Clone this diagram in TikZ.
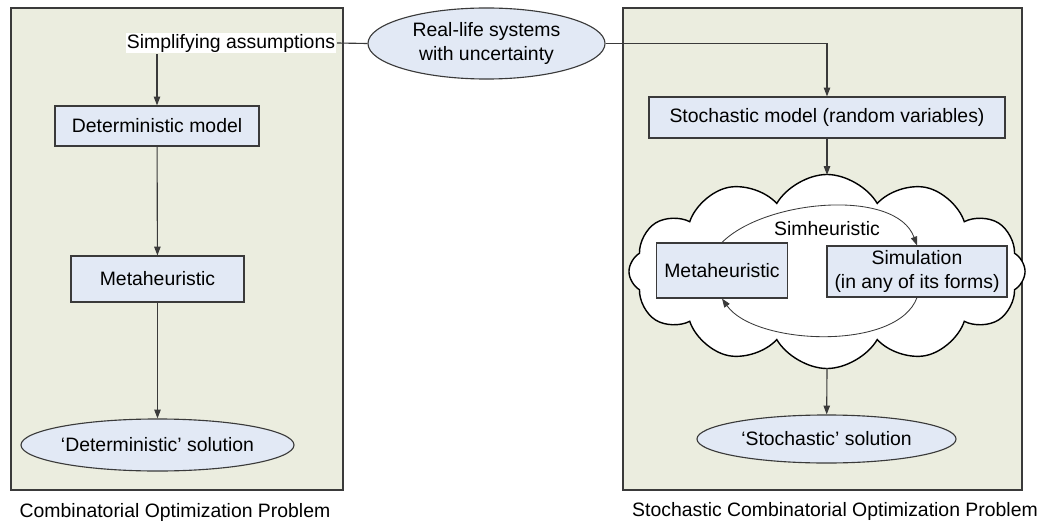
\documentclass[tikz,border=0pt]{standalone}
\usepackage{fontspec}
\setmainfont{Liberation Sans}
\usepackage{tikz}
\usetikzlibrary{arrows.meta,positioning,shapes.geometric,shapes.symbols}
\definecolor{panelfill}{HTML}{EBEDDF}
\definecolor{boxfill}{HTML}{E2E9F5}
\definecolor{linegray}{HTML}{3A3A3A}
\tikzset{box/.style={draw=linegray,fill=boxfill,align=center,inner sep=0pt},
  oval/.style={box,ellipse},
  panel/.style={draw=linegray,fill=panelfill},
  arr/.style={-{Triangle[length=2.2mm,width=1.6mm]},linegray},
  plain/.style={align=center,inner sep=1pt}}

\begin{document}
\begin{tikzpicture}[x=0.025cm,y=-0.025cm,line width=0.8pt,font=\fontsize{13.8}{16.5}\selectfont]
\useasboundingbox (0,0) rectangle (1037,525);
% the two problem frames
\draw[panel] (11,8) rectangle (343,490);
\draw[panel] (623,8) rectangle (1022,490);
\node[plain] (capL) at (175,512) {Combinatorial Optimization Problem};
\node[plain] (capR) at (835,511) {Stochastic Combinatorial Optimization Problem};
% source
\node[oval,minimum width=5.925cm,minimum height=1.775cm] (real) at (486.5,43.5) {Real-life systems\\with uncertainty};
\node[plain,fill=white] (simp) at (231,43) {Simplifying assumptions};
% deterministic side
\node[box,minimum width=5.1cm,minimum height=1cm] (detm) at (157,126) {Deterministic model};
\node[box,minimum width=4.325cm,minimum height=1.15cm] (metaL) at (157.5,279) {Metaheuristic};
\node[oval,minimum width=6.175cm,minimum height=1.3cm] (detsol) at (157.5,445) {`Deterministic' solution};
% stochastic side
\node[box,minimum width=8.9cm,minimum height=1.025cm] (stom) at (827,117.5) {Stochastic model (random variables)};
\node[cloud,cloud puffs=12,cloud puff arc=120,cloud ignores aspect,draw=black,line width=1pt,fill=white,minimum width=9.9cm,minimum height=4.85cm] (cld) at (827,271.5) {};
\coordinate (cldtop) at (827,175);
\coordinate (cldbot) at (827,368);
\node[box,minimum width=3.275cm,minimum height=1.375cm] (metaR) at (722,270.5) {Metaheuristic};
\node[box,minimum width=4.5cm,minimum height=1.275cm] (simu) at (917,271.5) {Simulation\\(in any of its forms)};
\node[plain] (simh) at (827,229) {Simheuristic};
\node[oval,minimum width=6.475cm,minimum height=1.2cm] (stosol) at (826.5,439) {`Stochastic' solution};
% connectors
\draw[linegray] (real.west) -- (simp.east);
\draw[arr] (real.east) -| (stom.north);
\draw[arr] (simp.south -| detm.north) -- (detm.north);
\draw[arr] (detm) -- (metaL);
\draw[arr] (metaL) -- (detsol);
\draw[arr] (stom) -- (cldtop);
\draw[arr] (cldbot) -- (stosol);
\draw[arr,line width=0.6pt] (metaR.north) to[out=45,in=110,looseness=0.8] (simu.north);
\draw[arr,line width=0.6pt] (simu.south) to[out=-110,in=-55,looseness=0.75] (metaR.south);
\end{tikzpicture}
\end{document}
